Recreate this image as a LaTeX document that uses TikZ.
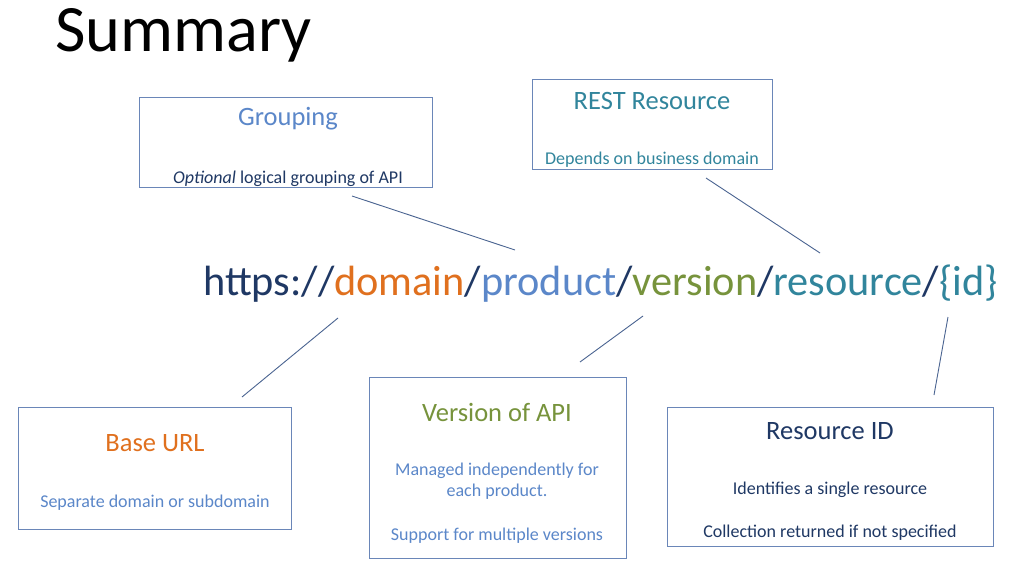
\documentclass[tikz,border=0pt]{standalone}
\usepackage{fontspec}
\setmainfont{Carlito}
\usetikzlibrary{positioning}
\definecolor{navy}{HTML}{1F3864}
\definecolor{orng}{HTML}{E0701E}
\definecolor{skyb}{HTML}{5B87C9}
\definecolor{olive}{HTML}{77933C}
\definecolor{teal}{HTML}{31859C}
\definecolor{frame}{HTML}{6A86B8}
\definecolor{wire}{HTML}{4A6491}
\begin{document}
\begin{tikzpicture}[x=1pt,y=-1pt,
  card/.style={draw=frame, line width=0.8pt, fill=white, inner sep=0pt},
  head/.style={font=\fontsize{26.5}{30}\selectfont, inner sep=0pt},
  body/.style={font=\fontsize{18}{21.5}\selectfont, inner sep=0pt, align=center},
  wireline/.style={draw=wire, line width=0.9pt}]
\useasboundingbox (0,0) rectangle (1014,562);
\fill[white] (0,0) rectangle (1014,562);

% title
\node[anchor=west, inner sep=0pt, font=\fontsize{66.3}{72}\selectfont] (title) at (55,35) {Summary};

% the URL pattern
\node[anchor=west, inner sep=0pt, font=\fontsize{42.3}{46}\selectfont] (url) at (203,284)
  {\textcolor{navy}{https://}\textcolor{orng}{domain}\textcolor{navy}{/}\textcolor{skyb}{product}\textcolor{navy}{/}\textcolor{olive}{version}\textcolor{navy}{/}\textcolor{teal}{resource}\textcolor{navy}{/}\textcolor{teal}{\{id\}}};

% cards
\node[card, minimum width=293pt, minimum height=90pt] (grp) at (285.5,142) {};
\node[card, minimum width=240pt, minimum height=90pt] (rest) at (652,124) {};
\node[card, minimum width=273pt, minimum height=122pt] (base) at (154.5,468) {};
\node[card, minimum width=257pt, minimum height=181pt] (ver) at (497.5,467.5) {};
\node[card, minimum width=326pt, minimum height=139pt] (rid) at (830,476.5) {};

% card texts
\node[head, text=skyb] (grpH) at (288,119) {Grouping};
\node[body, text=navy] (grpB) at (288,178.5) {\textit{Optional} logical grouping of API};

\node[head, text=teal] (restH) at (652,101) {REST Resource};
\node[body, text=teal] (restB) at (652,159.5) {Depends on business domain};

\node[head, text=orng] (baseH) at (155,443) {Base URL};
\node[body, text=skyb] (baseB) at (155,502.5) {Separate domain or subdomain};

\node[head, text=olive] (verH) at (497,412) {Version of API};
\node[body, text=skyb] (verB) at (497,481) {Managed independently for\\each product.};
\node[body, text=skyb] (verC) at (497,535.5) {Support for multiple versions};

\node[head, text=navy] (ridH) at (830,431) {Resource ID};
\node[body, text=navy] (ridB) at (830,489.5) {Identifies a single resource};
\node[body, text=navy] (ridC) at (830,532.5) {Collection returned if not specified};

% connector ends
\coordinate (g1) at (352,196);  \coordinate (g2) at (515,250);
\coordinate (r1) at (706,178);  \coordinate (r2) at (820,253);
\coordinate (b1) at (338,318);  \coordinate (b2) at (242,397);
\coordinate (v1) at (643,316);  \coordinate (v2) at (580,362);
\coordinate (i1) at (948,317);  \coordinate (i2) at (934,395);

\draw[wireline] (g1) -- (g2);
\draw[wireline] (r1) -- (r2);
\draw[wireline] (b1) -- (b2);
\draw[wireline] (v1) -- (v2);
\draw[wireline] (i1) -- (i2);
\end{tikzpicture}
\end{document}
